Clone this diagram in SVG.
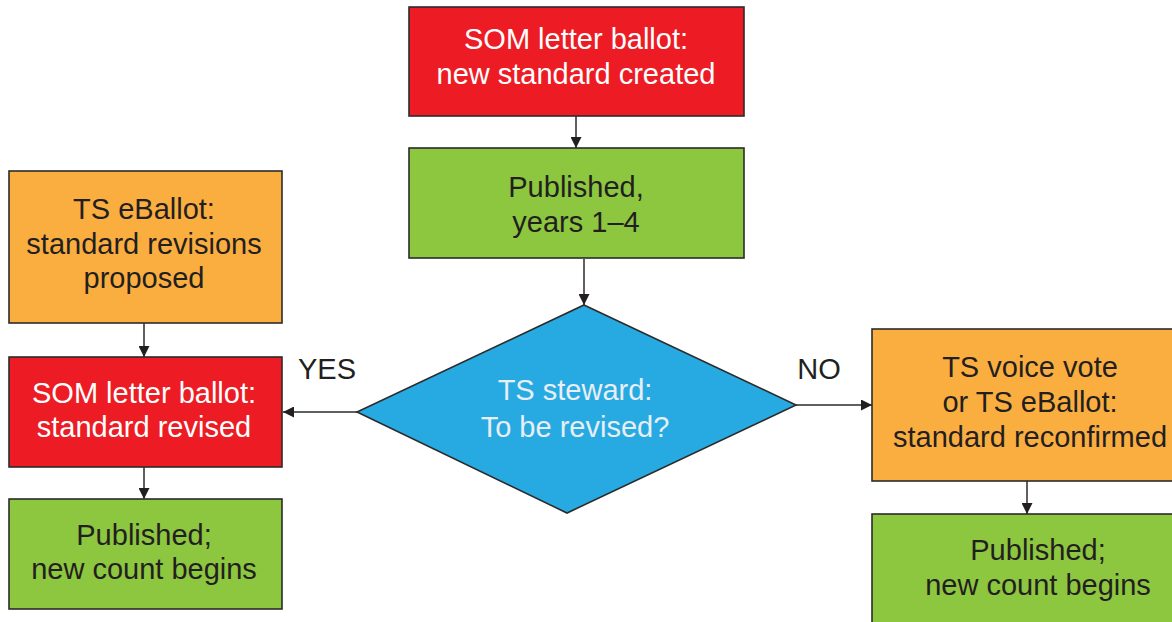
<svg xmlns="http://www.w3.org/2000/svg" width="1172" height="622" viewBox="0 0 1172 622">
<defs>
<style>
.box{stroke:#2b2b2b;stroke-width:1.6}
.red{fill:#ED1C24}.green{fill:#8DC63F}.orange{fill:#FBAE40}.blue{fill:#27AAE1}
text{font-family:"Liberation Sans",Arial,sans-serif;font-size:29px;text-anchor:middle}
.dk{fill:#231F20}.wt{fill:#FFFFFF}.lt{fill:#E8EEF4}
.conn{stroke:#2b2b2b;stroke-width:1.5;fill:none;marker-end:url(#ah)}
</style>
<marker id="ah" viewBox="0 0 10 10" refX="10" refY="5" markerWidth="11" markerHeight="11" markerUnits="userSpaceOnUse" orient="auto">
<path d="M0,0 L10,5 L0,10 z" fill="#231F20"/>
</marker>
</defs>
<rect width="1172" height="622" fill="#FFFFFF"/>
<g id="connectors">
<line class="conn" x1="576" y1="116" x2="576" y2="148"/>
<line class="conn" x1="584" y1="259" x2="584" y2="305"/>
<line class="conn" x1="357" y1="412" x2="283" y2="412"/>
<line class="conn" x1="796" y1="405" x2="872" y2="405"/>
<line class="conn" x1="144" y1="323" x2="144" y2="357"/>
<line class="conn" x1="144" y1="467" x2="144" y2="499"/>
<line class="conn" x1="1027" y1="481" x2="1027" y2="514"/>
</g>
<g id="n-som-new">
<rect class="box red" x="409" y="7" width="335" height="109"/>
<text class="wt" x="576" y="49">SOM letter ballot:</text>
<text class="wt" x="576" y="84">new standard created</text>
</g>
<g id="n-published-years">
<rect class="box green" x="409" y="148" width="335" height="110"/>
<text class="dk" x="576" y="197">Published,</text>
<text class="dk" x="576" y="232">years 1–4</text>
</g>
<g id="n-steward">
<polygon class="box blue" points="584,305 796,405 567,513 357,412"/>
<text class="lt" x="575" y="400">TS steward:</text>
<text class="lt" x="575" y="437">To be revised?</text>
</g>
<g id="n-yes-label"><text class="dk" x="327" y="379">YES</text></g>
<g id="n-no-label"><text class="dk" x="819" y="379">NO</text></g>
<g id="n-ts-eballot">
<rect class="box orange" x="9" y="171" width="273" height="152"/>
<text class="dk" x="144" y="219">TS eBallot:</text>
<text class="dk" x="144" y="254">standard revisions</text>
<text class="dk" x="144" y="288">proposed</text>
</g>
<g id="n-som-revised">
<rect class="box red" x="9" y="357" width="273" height="110"/>
<text class="wt" x="144" y="403">SOM letter ballot:</text>
<text class="wt" x="144" y="437">standard revised</text>
</g>
<g id="n-published-left">
<rect class="box green" x="9" y="499" width="273" height="110"/>
<text class="dk" x="144" y="545">Published;</text>
<text class="dk" x="144" y="579">new count begins</text>
</g>
<g id="n-reconfirmed">
<rect class="box orange" x="872" y="329" width="318" height="152"/>
<text class="dk" x="1030" y="377">TS voice vote</text>
<text class="dk" x="1030" y="412">or TS eBallot:</text>
<text class="dk" x="1030" y="447">standard reconfirmed</text>
</g>
<g id="n-published-right">
<rect class="box green" x="872" y="514" width="318" height="120"/>
<text class="dk" x="1038" y="560">Published;</text>
<text class="dk" x="1038" y="595">new count begins</text>
</g>
</svg>
